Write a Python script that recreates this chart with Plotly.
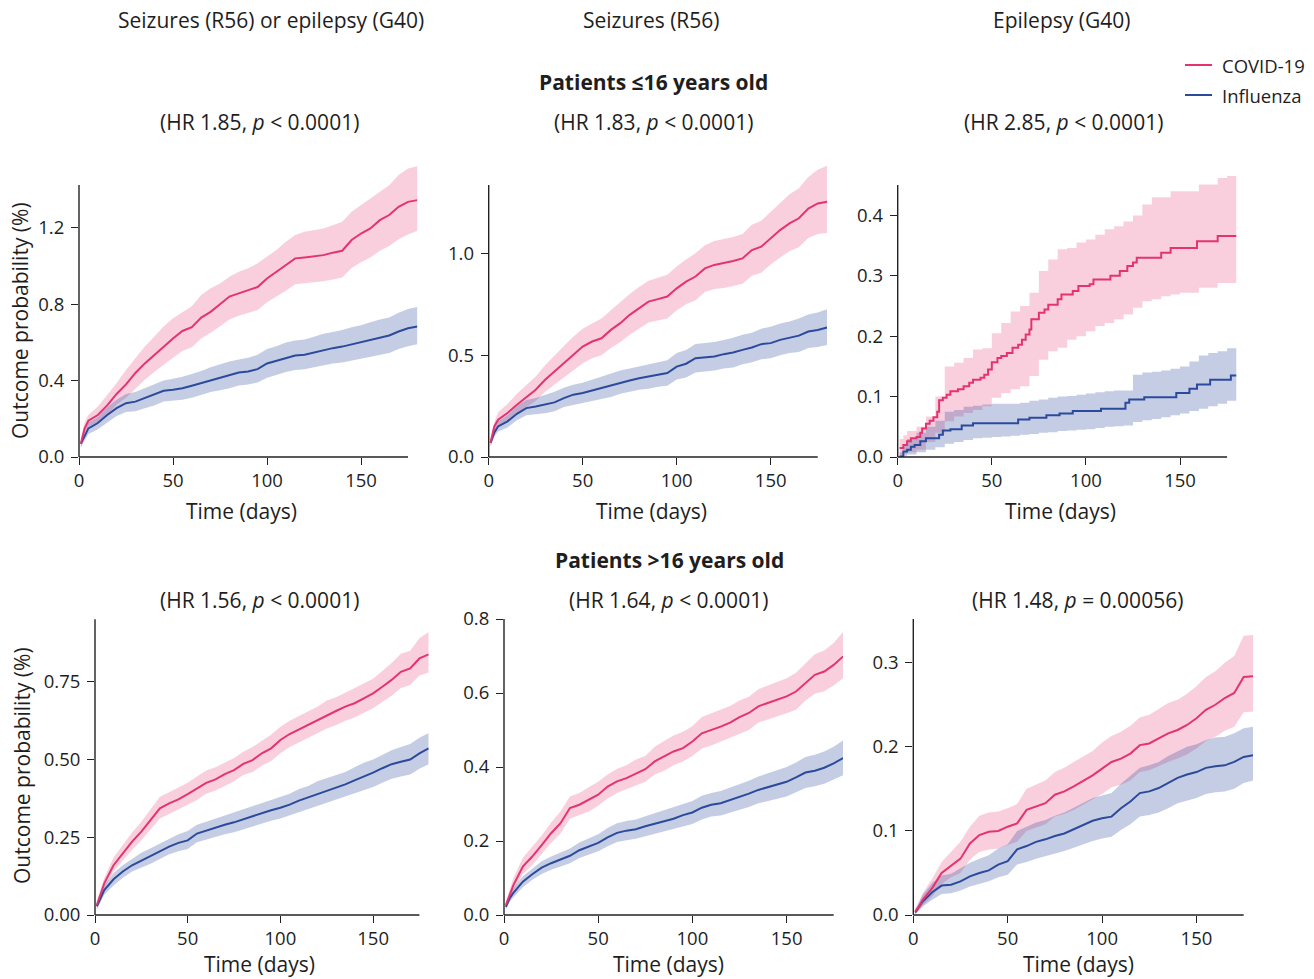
import plotly.graph_objects as go

# ---------------- data ----------------
T = [1, 3, 5, 10, 15, 20, 25, 30, 35, 40, 45, 50, 55, 60, 65, 70, 75, 80, 85, 90,
     95, 100, 105, 110, 115, 120, 125, 130, 135, 140, 145, 150, 155, 160, 165, 170, 175, 180]
X_TICKS = [0, 50, 100, 150]

COL_TITLES = ["Seizures (R56) or epilepsy (G40)", "Seizures (R56)", "Epilepsy (G40)"]
ROW_TITLES = ["Patients ≤16 years old", "Patients >16 years old"]
HR_TEXT = ["(HR 1.85, <i>p</i> < 0.0001)", "(HR 1.83, <i>p</i> < 0.0001)", "(HR 2.85, <i>p</i> < 0.0001)",
           "(HR 1.56, <i>p</i> < 0.0001)", "(HR 1.64, <i>p</i> < 0.0001)", "(HR 1.48, <i>p</i> = 0.00056)"]
SERIES = ["COVID-19", "Influenza"]

# Panel 1: <=16, seizures or epilepsy
P1_COVID = [0.07, 0.15, 0.19, 0.22, 0.27, 0.33, 0.38, 0.44, 0.49, 0.535, 0.58, 0.62, 0.66, 0.68, 0.73, 0.76, 0.80, 0.84, 0.857, 0.875, 0.89, 0.935, 0.97, 1.005, 1.04, 1.045, 1.05, 1.057, 1.07, 1.08, 1.136, 1.17, 1.197, 1.24, 1.267, 1.31, 1.336, 1.345]
P1_COVID_HI = [0.10, 0.18, 0.22, 0.265, 0.325, 0.387, 0.456, 0.517, 0.578, 0.63, 0.683, 0.726, 0.76, 0.79, 0.848, 0.883, 0.909, 0.944, 0.97, 0.988, 1.014, 1.049, 1.084, 1.127, 1.162, 1.18, 1.188, 1.197, 1.214, 1.232, 1.284, 1.319, 1.354, 1.389, 1.423, 1.476, 1.51, 1.523]
P1_COVID_LO = [0.05, 0.12, 0.16, 0.18, 0.22, 0.275, 0.31, 0.36, 0.405, 0.445, 0.485, 0.52, 0.555, 0.575, 0.62, 0.65, 0.685, 0.72, 0.74, 0.755, 0.77, 0.81, 0.84, 0.87, 0.905, 0.91, 0.915, 0.92, 0.93, 0.94, 0.99, 1.02, 1.045, 1.08, 1.105, 1.14, 1.165, 1.185]
P1_FLU = [0.07, 0.11, 0.15, 0.178, 0.22, 0.256, 0.282, 0.29, 0.308, 0.326, 0.347, 0.352, 0.36, 0.373, 0.387, 0.404, 0.416, 0.43, 0.442, 0.448, 0.46, 0.49, 0.503, 0.52, 0.531, 0.535, 0.547, 0.561, 0.57, 0.578, 0.59, 0.6, 0.613, 0.625, 0.636, 0.657, 0.674, 0.683]
P1_FLU_HI = [0.09, 0.14, 0.18, 0.21, 0.26, 0.3, 0.33, 0.34, 0.36, 0.38, 0.40, 0.41, 0.42, 0.435, 0.45, 0.47, 0.485, 0.50, 0.51, 0.52, 0.535, 0.565, 0.58, 0.60, 0.61, 0.615, 0.63, 0.645, 0.655, 0.665, 0.68, 0.69, 0.705, 0.72, 0.73, 0.755, 0.775, 0.785]
P1_FLU_LO = [0.05, 0.085, 0.12, 0.145, 0.18, 0.215, 0.235, 0.24, 0.255, 0.27, 0.29, 0.295, 0.30, 0.31, 0.325, 0.34, 0.35, 0.36, 0.375, 0.38, 0.39, 0.415, 0.43, 0.445, 0.455, 0.46, 0.47, 0.48, 0.49, 0.495, 0.505, 0.515, 0.525, 0.535, 0.545, 0.565, 0.58, 0.59]

# Panel 2: <=16, seizures
P2_COVID = [0.07, 0.15, 0.183, 0.216, 0.257, 0.294, 0.33, 0.379, 0.42, 0.46, 0.50, 0.542, 0.567, 0.583, 0.624, 0.657, 0.698, 0.73, 0.763, 0.775, 0.788, 0.828, 0.861, 0.886, 0.926, 0.943, 0.951, 0.962, 0.975, 1.016, 1.033, 1.074, 1.114, 1.147, 1.172, 1.22, 1.245, 1.253]
P2_COVID_HI = [0.10, 0.17, 0.22, 0.26, 0.31, 0.355, 0.395, 0.45, 0.50, 0.545, 0.59, 0.63, 0.655, 0.68, 0.72, 0.76, 0.80, 0.835, 0.865, 0.88, 0.895, 0.935, 0.97, 1.0, 1.04, 1.06, 1.07, 1.08, 1.095, 1.14, 1.16, 1.205, 1.25, 1.29, 1.32, 1.375, 1.41, 1.43]
P2_COVID_LO = [0.05, 0.12, 0.15, 0.18, 0.215, 0.245, 0.275, 0.32, 0.355, 0.39, 0.425, 0.46, 0.485, 0.50, 0.535, 0.565, 0.60, 0.63, 0.66, 0.67, 0.68, 0.72, 0.75, 0.77, 0.81, 0.825, 0.83, 0.84, 0.85, 0.89, 0.905, 0.945, 0.98, 1.01, 1.03, 1.075, 1.095, 1.10]
P2_FLU = [0.07, 0.12, 0.15, 0.175, 0.212, 0.24, 0.248, 0.257, 0.268, 0.289, 0.306, 0.314, 0.327, 0.338, 0.35, 0.366, 0.376, 0.387, 0.395, 0.404, 0.412, 0.444, 0.458, 0.485, 0.489, 0.493, 0.505, 0.513, 0.526, 0.538, 0.554, 0.559, 0.575, 0.587, 0.596, 0.616, 0.624, 0.636]
P2_FLU_HI = [0.09, 0.14, 0.175, 0.205, 0.25, 0.28, 0.29, 0.305, 0.32, 0.34, 0.355, 0.365, 0.38, 0.395, 0.41, 0.425, 0.435, 0.445, 0.455, 0.465, 0.475, 0.51, 0.525, 0.555, 0.56, 0.565, 0.575, 0.585, 0.60, 0.61, 0.63, 0.64, 0.655, 0.665, 0.68, 0.70, 0.71, 0.725]
P2_FLU_LO = [0.05, 0.10, 0.125, 0.145, 0.18, 0.205, 0.21, 0.215, 0.225, 0.245, 0.255, 0.265, 0.275, 0.285, 0.295, 0.31, 0.32, 0.33, 0.335, 0.345, 0.35, 0.38, 0.39, 0.415, 0.42, 0.425, 0.435, 0.44, 0.455, 0.465, 0.48, 0.485, 0.50, 0.51, 0.515, 0.535, 0.54, 0.55]

# Panel 3: <=16, epilepsy (visible steps)
P3_COVID_T = [1, 3, 5, 7, 10, 12, 13, 15, 17, 19, 21, 22, 24, 26, 28, 32, 35, 38, 40, 44, 46, 48, 50, 53, 55, 58, 61, 64, 66, 68, 70, 71, 75, 78, 80, 85, 87, 93, 96, 102, 104, 113, 118, 122, 125, 127, 140, 145, 159, 170, 180]
P3_COVID = [0.015, 0.02, 0.026, 0.031, 0.033, 0.04, 0.047, 0.055, 0.06, 0.066, 0.075, 0.094, 0.098, 0.103, 0.109, 0.112, 0.117, 0.123, 0.128, 0.131, 0.136, 0.145, 0.157, 0.164, 0.167, 0.172, 0.181, 0.186, 0.194, 0.203, 0.211, 0.228, 0.239, 0.244, 0.252, 0.261, 0.269, 0.275, 0.283, 0.286, 0.294, 0.30, 0.308, 0.316, 0.322, 0.33, 0.338, 0.346, 0.357, 0.366, 0.366]
P3_FLU_T = [1, 3, 5, 7, 9, 12, 15, 22, 24, 28, 34, 40, 64, 70, 79, 86, 93, 108, 121, 123, 131, 148, 155, 159, 166, 177, 180]
P3_FLU = [0.001, 0.009, 0.012, 0.017, 0.02, 0.026, 0.031, 0.037, 0.044, 0.046, 0.052, 0.056, 0.062, 0.065, 0.069, 0.072, 0.076, 0.08, 0.09, 0.095, 0.099, 0.106, 0.113, 0.12, 0.128, 0.135, 0.135]
P3_COVID_HI = [0.03, 0.036, 0.043, 0.05, 0.067, 0.1, 0.15, 0.156, 0.164, 0.178, 0.18, 0.205, 0.222, 0.241, 0.25, 0.272, 0.308, 0.327, 0.344, 0.346, 0.355, 0.36, 0.368, 0.377, 0.382, 0.39, 0.40, 0.418, 0.43, 0.43, 0.44, 0.44, 0.44, 0.451, 0.451, 0.462, 0.465, 0.465]
P3_COVID_LO = [0.002, 0.005, 0.008, 0.012, 0.025, 0.04, 0.059, 0.067, 0.073, 0.078, 0.084, 0.098, 0.106, 0.112, 0.117, 0.134, 0.161, 0.175, 0.181, 0.194, 0.2, 0.208, 0.217, 0.222, 0.228, 0.236, 0.247, 0.258, 0.261, 0.266, 0.269, 0.272, 0.272, 0.28, 0.28, 0.288, 0.288, 0.288]
P3_FLU_HI = [0.008, 0.02, 0.03, 0.04, 0.05, 0.06, 0.075, 0.078, 0.083, 0.085, 0.087, 0.088, 0.088, 0.088, 0.09, 0.093, 0.095, 0.098, 0.1, 0.101, 0.103, 0.105, 0.107, 0.109, 0.11, 0.11, 0.136, 0.14, 0.141, 0.143, 0.146, 0.15, 0.158, 0.168, 0.172, 0.175, 0.18, 0.185]
P3_FLU_LO = [0.0, 0.002, 0.004, 0.008, 0.012, 0.016, 0.022, 0.025, 0.028, 0.031, 0.032, 0.033, 0.034, 0.035, 0.037, 0.038, 0.04, 0.041, 0.043, 0.044, 0.045, 0.046, 0.048, 0.05, 0.051, 0.052, 0.058, 0.061, 0.063, 0.066, 0.069, 0.072, 0.076, 0.08, 0.084, 0.088, 0.093, 0.098]

# Panel 4: >16, seizures or epilepsy
P4_COVID = [0.032, 0.07, 0.102, 0.16, 0.198, 0.236, 0.268, 0.305, 0.343, 0.359, 0.372, 0.389, 0.407, 0.425, 0.436, 0.453, 0.466, 0.486, 0.498, 0.52, 0.536, 0.563, 0.582, 0.597, 0.611, 0.627, 0.643, 0.656, 0.67, 0.681, 0.697, 0.713, 0.734, 0.756, 0.782, 0.793, 0.825, 0.838]
P4_COVID_HI = [0.045, 0.085, 0.12, 0.185, 0.225, 0.265, 0.30, 0.34, 0.38, 0.395, 0.41, 0.425, 0.445, 0.465, 0.475, 0.49, 0.505, 0.525, 0.54, 0.56, 0.58, 0.605, 0.625, 0.64, 0.655, 0.67, 0.69, 0.70, 0.715, 0.73, 0.745, 0.76, 0.785, 0.81, 0.84, 0.85, 0.89, 0.91]
P4_COVID_LO = [0.02, 0.055, 0.085, 0.14, 0.175, 0.21, 0.24, 0.275, 0.31, 0.325, 0.34, 0.355, 0.37, 0.39, 0.40, 0.415, 0.43, 0.45, 0.46, 0.48, 0.495, 0.52, 0.54, 0.555, 0.57, 0.585, 0.60, 0.61, 0.625, 0.635, 0.65, 0.665, 0.685, 0.705, 0.73, 0.74, 0.77, 0.78]
P4_FLU = [0.028, 0.055, 0.08, 0.115, 0.14, 0.16, 0.175, 0.19, 0.205, 0.22, 0.232, 0.24, 0.262, 0.272, 0.28, 0.29, 0.298, 0.308, 0.318, 0.328, 0.337, 0.345, 0.355, 0.368, 0.378, 0.39, 0.40, 0.41, 0.42, 0.433, 0.445, 0.458, 0.472, 0.485, 0.493, 0.5, 0.52, 0.536]
P4_FLU_HI = [0.04, 0.07, 0.095, 0.135, 0.16, 0.18, 0.20, 0.215, 0.23, 0.245, 0.26, 0.27, 0.29, 0.30, 0.31, 0.32, 0.33, 0.34, 0.35, 0.36, 0.37, 0.38, 0.39, 0.405, 0.415, 0.43, 0.44, 0.45, 0.46, 0.475, 0.49, 0.50, 0.515, 0.53, 0.54, 0.55, 0.57, 0.585]
P4_FLU_LO = [0.018, 0.04, 0.065, 0.095, 0.12, 0.14, 0.152, 0.165, 0.18, 0.195, 0.205, 0.212, 0.234, 0.243, 0.25, 0.26, 0.266, 0.275, 0.285, 0.295, 0.303, 0.31, 0.32, 0.332, 0.34, 0.35, 0.36, 0.37, 0.38, 0.39, 0.40, 0.412, 0.425, 0.438, 0.445, 0.452, 0.47, 0.485]

# Panel 5: >16, seizures
P5_COVID = [0.027, 0.054, 0.081, 0.131, 0.158, 0.189, 0.221, 0.248, 0.289, 0.298, 0.311, 0.325, 0.347, 0.361, 0.37, 0.383, 0.394, 0.415, 0.428, 0.442, 0.451, 0.469, 0.491, 0.499, 0.509, 0.52, 0.535, 0.546, 0.564, 0.573, 0.582, 0.591, 0.604, 0.627, 0.649, 0.658, 0.676, 0.699]
P5_COVID_HI = [0.037, 0.07, 0.10, 0.155, 0.185, 0.215, 0.25, 0.28, 0.32, 0.33, 0.345, 0.36, 0.38, 0.395, 0.405, 0.42, 0.43, 0.455, 0.47, 0.485, 0.495, 0.51, 0.535, 0.545, 0.555, 0.565, 0.58, 0.59, 0.61, 0.62, 0.63, 0.64, 0.655, 0.68, 0.705, 0.715, 0.735, 0.765]
P5_COVID_LO = [0.018, 0.04, 0.065, 0.11, 0.135, 0.165, 0.195, 0.22, 0.26, 0.27, 0.28, 0.295, 0.315, 0.33, 0.34, 0.35, 0.36, 0.38, 0.39, 0.405, 0.415, 0.43, 0.45, 0.458, 0.468, 0.478, 0.49, 0.50, 0.52, 0.528, 0.535, 0.545, 0.555, 0.58, 0.598, 0.605, 0.62, 0.64]
P5_FLU = [0.022, 0.045, 0.06, 0.09, 0.11, 0.128, 0.14, 0.15, 0.16, 0.175, 0.185, 0.195, 0.21, 0.222, 0.228, 0.232, 0.24, 0.247, 0.255, 0.26, 0.27, 0.277, 0.29, 0.298, 0.302, 0.31, 0.318, 0.328, 0.338, 0.345, 0.352, 0.36, 0.372, 0.385, 0.39, 0.398, 0.41, 0.424]
P5_FLU_HI = [0.03, 0.055, 0.072, 0.105, 0.125, 0.145, 0.158, 0.17, 0.18, 0.196, 0.207, 0.218, 0.235, 0.248, 0.254, 0.258, 0.267, 0.275, 0.283, 0.29, 0.30, 0.308, 0.322, 0.33, 0.335, 0.344, 0.353, 0.363, 0.374, 0.382, 0.39, 0.4, 0.412, 0.427, 0.433, 0.442, 0.455, 0.472]
P5_FLU_LO = [0.014, 0.035, 0.048, 0.075, 0.095, 0.111, 0.122, 0.131, 0.14, 0.154, 0.163, 0.172, 0.186, 0.197, 0.202, 0.206, 0.213, 0.22, 0.227, 0.232, 0.24, 0.246, 0.258, 0.266, 0.269, 0.276, 0.283, 0.292, 0.302, 0.308, 0.314, 0.32, 0.332, 0.343, 0.348, 0.355, 0.366, 0.378]

# Panel 6: >16, epilepsy
P6_COVID = [0.004, 0.01, 0.018, 0.032, 0.05, 0.059, 0.067, 0.085, 0.095, 0.099, 0.1, 0.105, 0.109, 0.125, 0.129, 0.133, 0.143, 0.147, 0.153, 0.159, 0.166, 0.174, 0.182, 0.186, 0.192, 0.202, 0.204, 0.21, 0.216, 0.22, 0.226, 0.234, 0.244, 0.25, 0.258, 0.264, 0.283, 0.284]
P6_COVID_HI = [0.008, 0.016, 0.026, 0.043, 0.063, 0.075, 0.087, 0.105, 0.118, 0.122, 0.123, 0.127, 0.132, 0.15, 0.155, 0.16, 0.17, 0.175, 0.182, 0.188, 0.195, 0.205, 0.213, 0.218, 0.225, 0.235, 0.238, 0.245, 0.252, 0.256, 0.263, 0.272, 0.283, 0.29, 0.3, 0.308, 0.332, 0.333]
P6_COVID_LO = [0.001, 0.005, 0.011, 0.022, 0.037, 0.045, 0.05, 0.066, 0.075, 0.078, 0.079, 0.083, 0.087, 0.1, 0.104, 0.108, 0.117, 0.12, 0.125, 0.131, 0.137, 0.144, 0.152, 0.155, 0.16, 0.17, 0.172, 0.177, 0.182, 0.186, 0.191, 0.198, 0.207, 0.212, 0.219, 0.224, 0.241, 0.242]
P6_FLU = [0.003, 0.01, 0.016, 0.027, 0.035, 0.036, 0.04, 0.046, 0.05, 0.053, 0.06, 0.064, 0.078, 0.082, 0.087, 0.09, 0.094, 0.097, 0.102, 0.107, 0.112, 0.115, 0.117, 0.127, 0.135, 0.145, 0.147, 0.151, 0.157, 0.163, 0.167, 0.17, 0.175, 0.177, 0.178, 0.182, 0.188, 0.19]
P6_FLU_HI = [0.006, 0.016, 0.024, 0.038, 0.047, 0.049, 0.055, 0.062, 0.067, 0.071, 0.079, 0.084, 0.1, 0.105, 0.11, 0.113, 0.118, 0.122, 0.128, 0.133, 0.139, 0.142, 0.145, 0.156, 0.165, 0.175, 0.178, 0.182, 0.189, 0.195, 0.2, 0.203, 0.208, 0.211, 0.212, 0.216, 0.222, 0.224]
P6_FLU_LO = [0.001, 0.005, 0.01, 0.018, 0.025, 0.026, 0.029, 0.034, 0.037, 0.04, 0.045, 0.048, 0.06, 0.063, 0.067, 0.07, 0.073, 0.076, 0.08, 0.084, 0.088, 0.091, 0.093, 0.101, 0.108, 0.117, 0.119, 0.122, 0.127, 0.133, 0.136, 0.139, 0.144, 0.146, 0.147, 0.15, 0.157, 0.16]

Y_TICKS = [[0, 0.4, 0.8, 1.2], [0, 0.5, 1.0], [0, 0.1, 0.2, 0.3, 0.4],
           [0, 0.25, 0.5, 0.75], [0, 0.2, 0.4, 0.6, 0.8], [0, 0.1, 0.2, 0.3]]
Y_TICKTEXT = [["0.0", "0.4", "0.8", "1.2"], ["0.0", "0.5", "1.0"], ["0.0", "0.1", "0.2", "0.3", "0.4"],
              ["0.00", "0.25", "0.50", "0.75"], ["0.0", "0.2", "0.4", "0.6", "0.8"], ["0.0", "0.1", "0.2", "0.3"]]

# ---------------- style / layout ----------------
W, H = 1314, 979
FONT = "Open Sans"
TXT = "#1e1e1e"
AX = "#222222"
C_COVID = "#E4336F"
C_FLU = "#2C4A9C"
F_COVID = "rgba(232,64,122,0.25)"
F_FLU = "rgba(46,74,158,0.28)"

# pixel geometry of each panel: (left, right, top, bottom, ymax, spine_top_px)
GEOM = [
    (79.0, 417.4, 164.8, 457.0, 1.53, 185.0),
    (488.7, 827.1, 163.7, 457.0, 1.44, 185.0),
    (897.7, 1236.5, 173.1, 457.0, 0.47, 185.0),
    (95.0, 428.7, 625.8, 915.0, 0.93, 619.3),
    (504.0, 843.1, 619.0, 915.0, 0.80, 619.0),
    (913.3, 1253.1, 619.0, 915.0, 0.352, 619.0),
]
XMAX = 180.0
X_SPINE_END = 175.0


def fx(px):
    return px / W


def fy(py):
    return 1 - py / H


panels = [
    dict(bt=T, cov=P1_COVID, ct=T, clo=P1_COVID_LO, chi=P1_COVID_HI, flu=P1_FLU, ft=T, flo=P1_FLU_LO, fhi=P1_FLU_HI, shape="linear"),
    dict(bt=T, cov=P2_COVID, ct=T, clo=P2_COVID_LO, chi=P2_COVID_HI, flu=P2_FLU, ft=T, flo=P2_FLU_LO, fhi=P2_FLU_HI, shape="linear"),
    dict(bt=T, cov=P3_COVID, ct=P3_COVID_T, clo=P3_COVID_LO, chi=P3_COVID_HI, flu=P3_FLU, ft=P3_FLU_T, flo=P3_FLU_LO, fhi=P3_FLU_HI, shape="hv"),
    dict(bt=T, cov=P4_COVID, ct=T, clo=P4_COVID_LO, chi=P4_COVID_HI, flu=P4_FLU, ft=T, flo=P4_FLU_LO, fhi=P4_FLU_HI, shape="linear"),
    dict(bt=T, cov=P5_COVID, ct=T, clo=P5_COVID_LO, chi=P5_COVID_HI, flu=P5_FLU, ft=T, flo=P5_FLU_LO, fhi=P5_FLU_HI, shape="linear"),
    dict(bt=T, cov=P6_COVID, ct=T, clo=P6_COVID_LO, chi=P6_COVID_HI, flu=P6_FLU, ft=T, flo=P6_FLU_LO, fhi=P6_FLU_HI, shape="linear"),
]

fig = go.Figure()
layout_axes = {}
shapes = []

for i, (p, g) in enumerate(zip(panels, GEOM)):
    n = i + 1
    xa = "x" if n == 1 else f"x{n}"
    ya = "y" if n == 1 else f"y{n}"
    left, right, top, bottom, ymax, spine_top = g
    sh = p["shape"]

    # confidence bands
    for lo, hi, fc in [(p["clo"], p["chi"], F_COVID), (p["flo"], p["fhi"], F_FLU)]:
        fig.add_trace(go.Scatter(x=p["bt"], y=lo, mode="lines", line=dict(width=0, shape=sh),
                                 xaxis=xa, yaxis=ya, showlegend=False, hoverinfo="skip"))
        fig.add_trace(go.Scatter(x=p["bt"], y=hi, mode="lines", line=dict(width=0, shape=sh),
                                 fill="tonexty", fillcolor=fc, xaxis=xa, yaxis=ya,
                                 showlegend=False, hoverinfo="skip"))
    # cumulative-incidence lines
    fig.add_trace(go.Scatter(x=p["ft"], y=p["flu"], mode="lines", name=SERIES[1],
                             line=dict(color=C_FLU, width=2, shape=sh),
                             xaxis=xa, yaxis=ya, showlegend=False))
    fig.add_trace(go.Scatter(x=p["ct"], y=p["cov"], mode="lines", name=SERIES[0],
                             line=dict(color=C_COVID, width=2, shape=sh),
                             xaxis=xa, yaxis=ya, showlegend=False))

    axname_x = "xaxis" if n == 1 else f"xaxis{n}"
    axname_y = "yaxis" if n == 1 else f"yaxis{n}"
    layout_axes[axname_x] = dict(
        domain=[fx(left), fx(right)], range=[0, XMAX], anchor=ya,
        tickvals=X_TICKS, ticktext=[str(v) for v in X_TICKS],
        ticks="outside", ticklen=7, tickwidth=1.3, tickcolor=AX,
        showline=False, showgrid=False, zeroline=False, automargin=False,
        tickfont=dict(family=FONT, size=18.5, color=TXT), fixedrange=True,
    )
    layout_axes[axname_y] = dict(
        domain=[fy(bottom), fy(top)], range=[0, ymax], anchor=xa,
        tickvals=Y_TICKS[i], ticktext=Y_TICKTEXT[i],
        ticks="outside", ticklen=7, tickwidth=1.3, tickcolor=AX, ticklabelstandoff=3,
        showline=False, showgrid=False, zeroline=False, automargin=False,
        tickfont=dict(family=FONT, size=18.5, color=TXT), fixedrange=True,
    )
    # spines (trimmed, like the reference)
    x_end_px = left + X_SPINE_END / XMAX * (right - left)
    shapes.append(dict(type="line", xref="paper", yref="paper",
                       x0=fx(left), x1=fx(left), y0=fy(bottom), y1=fy(spine_top),
                       line=dict(color=AX, width=1.4)))
    shapes.append(dict(type="line", xref="paper", yref="paper",
                       x0=fx(left), x1=fx(x_end_px), y0=fy(bottom), y1=fy(bottom),
                       line=dict(color=AX, width=1.4)))

annotations = []


def ann(text, px, py, size=21, bold=False, xanchor="center", angle=0):
    if bold:
        text = f"<b>{text}</b>"
    annotations.append(dict(text=text, x=fx(px), y=fy(py), xref="paper", yref="paper",
                            showarrow=False, xanchor=xanchor, yanchor="middle", textangle=angle,
                            font=dict(family=FONT, size=size, color=TXT)))


# column titles
for txt, cx in zip(COL_TITLES, [271, 651, 1061]):
    ann(txt, cx, 20)
# row titles
ann(ROW_TITLES[0], 653, 82, bold=True)
ann(ROW_TITLES[1], 669, 560, bold=True)
# HR subtitles
for txt, (cx, cy) in zip(HR_TEXT, [(259, 122), (653, 122), (1063, 122),
                                   (259, 600), (668, 600), (1077, 600)]):
    ann(txt, cx, cy)
# x-axis titles
for cx, cy in [(241, 511), (651, 511), (1060, 511), (259, 964), (668, 964), (1078, 964)]:
    ann("Time (days)", cx, cy)
# y-axis titles
ann("Outcome probability (%)", 20, 321, angle=-90)
ann("Outcome probability (%)", 22, 766, angle=-90)

# legend (manual)
for lbl, col, ly in [(SERIES[0], C_COVID, 65), (SERIES[1], C_FLU, 95)]:
    shapes.append(dict(type="line", xref="paper", yref="paper",
                       x0=fx(1185), x1=fx(1212), y0=fy(ly), y1=fy(ly),
                       line=dict(color=col, width=2)))
    ann(lbl, 1220, ly, size=18.5, xanchor="left")

fig.update_layout(
    width=W, height=H, margin=dict(l=0, r=0, t=0, b=0, pad=0, autoexpand=False),
    paper_bgcolor="white", plot_bgcolor="white",
    showlegend=False, shapes=shapes, annotations=annotations,
    font=dict(family=FONT, color=TXT),
    **layout_axes,
)

fig.write_html(
    "out.html",
    config={"displayModeBar": False},
    post_script="document.body.style.margin='0';document.body.style.padding='0';document.body.style.overflow='hidden';",
)
